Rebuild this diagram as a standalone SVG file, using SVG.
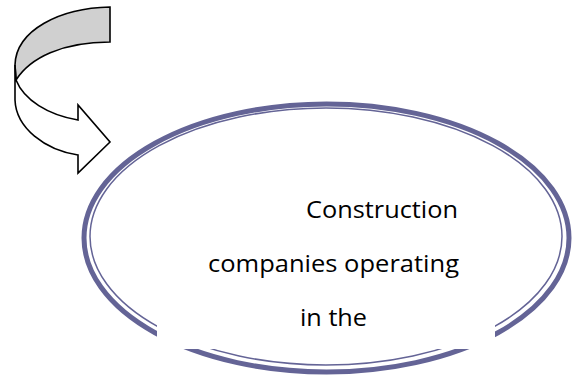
<svg xmlns="http://www.w3.org/2000/svg" width="583" height="378" viewBox="0 0 583 378">
<style>
.arrow{stroke:#000;stroke-width:1.6;stroke-linejoin:miter}
.ring{fill:none;stroke:#646496}
.lbl{font-family:"Open Sans","Liberation Sans",sans-serif;font-size:23.5px;fill:#000}
</style>
<rect width="583" height="378" fill="#fff"/>
<g id="curved-arrow">
<path class="arrow" fill="#d0d0d0" d="M110,7 C60,8 16,30 15,65 L16,80 C30,58 62,42 110,42 Z"/>
<path class="arrow" fill="#fff" d="M15,65 L15,100 C16,128 45,150 78,155 L78,173 L110,142 L78,105 L78,120 C48,115 24,100 16,80 Z"/>
</g>
<g id="node-ellipse">
<ellipse class="ring" cx="326.5" cy="238" rx="242.5" ry="134" stroke-width="5"/>
<ellipse class="ring" cx="326" cy="236.5" rx="236" ry="128.5" stroke-width="1.5"/>
<rect x="157" y="316" width="338" height="33" fill="#fff"/>
<text class="lbl" x="306" y="218" textLength="152" lengthAdjust="spacingAndGlyphs">Construction</text>
<text class="lbl" x="208" y="272" textLength="251" lengthAdjust="spacingAndGlyphs">companies operating</text>
<text class="lbl" x="300" y="326" textLength="67" lengthAdjust="spacingAndGlyphs">in the</text>
</g>
</svg>
